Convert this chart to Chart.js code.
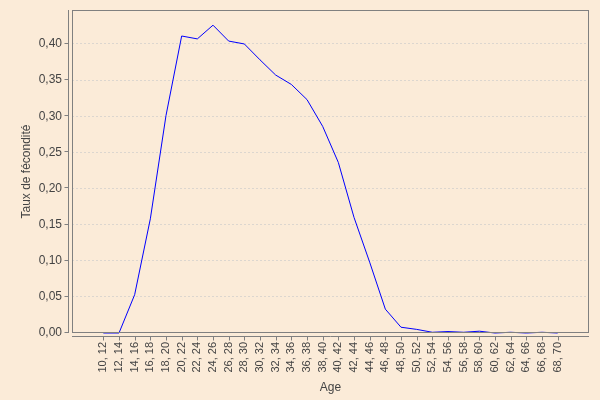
<!DOCTYPE html>
<html>
<head>
<meta charset="utf-8">
<script src="https://cdn.jsdelivr.net/npm/chart.js@4"></script>
<style>
  html, body { margin: 0; padding: 0; background: #fbebd8; }
  #wrap { width: 600px; height: 400px; }
</style>
</head>
<body>
<div id="wrap"><canvas id="c" width="600" height="400"></canvas></div>
<script>
const categories = ["10, 12","12, 14","14, 16","16, 18","18, 20","20, 22","22, 24","24, 26","26, 28","28, 30",
  "30, 32","32, 34","34, 36","36, 38","38, 40","40, 42","42, 44","44, 46","46, 48","48, 50",
  "50, 52","52, 54","54, 56","56, 58","58, 60","60, 62","62, 64","64, 66","66, 68","68, 70"];
const fertilityRate = [0, 0, 0.053, 0.158, 0.301, 0.411, 0.407, 0.426, 0.404, 0.400,
  0.378, 0.357, 0.344, 0.323, 0.286, 0.236, 0.160, 0.098, 0.033, 0.008,
  0.005, 0.001, 0.002, 0.001, 0.0025, 0.0, 0.001, 0.0, 0.001, 0.0];
const yTickValues = [0, 0.05, 0.10, 0.15, 0.20, 0.25, 0.30, 0.35, 0.40];

const TEXT = '#444444';
const FRAME = '#808080';

const bgPlugin = {
  id: 'bg',
  beforeDraw(chart) {
    const ctx = chart.ctx;
    ctx.save();
    ctx.fillStyle = '#fbebd8';
    ctx.fillRect(0, 0, chart.width, chart.height);
    ctx.restore();
  }
};

const framePlugin = {
  id: 'frame',
  afterDraw(chart) {
    const {ctx, chartArea: a, scales: {x, y}} = chart;
    ctx.save();
    ctx.strokeStyle = FRAME;
    ctx.lineWidth = 1;
    ctx.strokeRect(a.left + 0.5, a.top + 0.5, a.right - a.left - 1, a.bottom - a.top - 1);
    const yx = a.left - 4 + 0.5;
    ctx.beginPath();
    ctx.moveTo(yx, a.top);
    ctx.lineTo(yx, a.bottom);
    yTickValues.forEach(v => {
      const py = Math.round(y.getPixelForValue(v)) - 0.5;
      ctx.moveTo(yx - 4, py);
      ctx.lineTo(yx, py);
    });
    const xy = a.bottom + 3 + 0.5;
    ctx.moveTo(a.left, xy);
    ctx.lineTo(a.right, xy);
    categories.forEach((c, i) => {
      const px = Math.round(x.getPixelForValue(i)) + 0.5;
      ctx.moveTo(px, xy);
      ctx.lineTo(px, xy + 4);
    });
    ctx.stroke();
    ctx.restore();
  }
};

new Chart(document.getElementById('c'), {
  type: 'line',
  data: {
    datasets: [{
      data: fertilityRate.map((v, i) => ({x: i, y: v})),
      borderColor: '#0000ff',
      borderWidth: 1,
      pointRadius: 0,
      tension: 0,
      fill: false,
      clip: false
    }]
  },
  options: {
    responsive: false,
    animation: false,
    layout: { autoPadding: false, padding: { top: 10, right: 11, left: 0, bottom: 0 } },
    plugins: { legend: { display: false }, tooltip: { enabled: false } },
    scales: {
      x: {
        type: 'linear',
        min: -2,
        max: 31,
        afterBuildTicks(scale) {
          scale.ticks = categories.map((c, i) => ({value: i}));
        },
        afterFit(scale) {
          scale.height = 67;
          scale.paddingLeft = 0; scale.paddingRight = 0;
          scale.paddingTop = 0; scale.paddingBottom = 0;
        },
        grid: { display: false, drawTicks: false },
        border: { display: false },
        ticks: {
          autoSkip: false,
          minRotation: 90,
          maxRotation: 90,
          padding: 9,
          color: TEXT,
          font: { family: 'Liberation Sans', size: 11 },
          callback: (v) => categories[v] !== undefined ? categories[v] : ''
        },
        title: {
          display: true,
          text: 'Age',
          color: TEXT,
          font: { family: 'Liberation Sans', size: 12 },
          padding: { top: 0, bottom: 5 }
        }
      },
      y: {
        type: 'linear',
        min: 0,
        max: 0.447,
        afterBuildTicks(scale) {
          scale.ticks = yTickValues.map(v => ({value: v}));
        },
        afterFit(scale) {
          scale.width = 72;
          scale.paddingTop = 0; scale.paddingBottom = 0;
          scale.paddingLeft = 0; scale.paddingRight = 0;
        },
        grid: {
          drawTicks: false,
          color: (c) => c.tick && c.tick.value === 0 ? 'rgba(0,0,0,0)' : '#dcd6cf',
          lineWidth: 1
        },
        border: { display: false, dash: [2, 2] },
        ticks: {
          padding: 10,
          color: TEXT,
          font: { family: 'Liberation Sans', size: 12 },
          callback: (v) => Number(v).toFixed(2).replace('.', ',')
        },
        title: {
          display: true,
          text: 'Taux de fécondité',
          color: TEXT,
          font: { family: 'Liberation Sans', size: 12 },
          padding: { top: 19, bottom: 0 }
        }
      }
    }
  },
  plugins: [bgPlugin, framePlugin]
});
</script>
</body>
</html>
